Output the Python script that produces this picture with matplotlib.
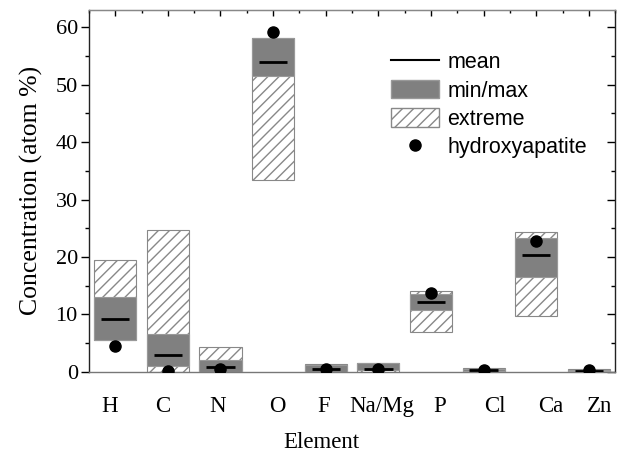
import numpy as np
import matplotlib
matplotlib.use('Agg')
import matplotlib.pyplot as plt
from matplotlib.patches import Patch
from matplotlib.lines import Line2D
from matplotlib.ticker import MultipleLocator

# data (atom %)
elements = ['H', 'C', 'N', 'O', 'F', 'Na/Mg', 'P', 'Cl', 'Ca', 'Zn']
ext_lo = [5.6, 0.0, 0.0, 33.4, 0.0, 0.0, 7.0, 0.0, 9.8, 0.0]
ext_hi = [19.5, 24.7, 4.4, 58.2, 1.3, 1.5, 14.0, 0.6, 24.3, 0.5]
mm_lo = [5.6, 1.0, 0.0, 51.5, 0.0, 0.3, 10.7, 0.1, 16.5, 0.1]
mm_hi = [13.0, 6.5, 2.0, 58.2, 1.2, 1.5, 13.6, 0.5, 23.3, 0.4]
mean = [9.2, 3.0, 0.8, 53.9, 0.5, 0.5, 12.1, 0.3, 20.3, 0.2]
hap = [4.5, 0.2, 0.5, 59.2, 0.5, 0.5, 13.75, 0.4, 22.8, 0.3]
# the element labels sit a little off the bar centres in the original
label_shift = [-0.1, -0.1, -0.06, 0.08, -0.04, 0.06, 0.17, 0.21, 0.27, 0.21]

x = np.arange(len(elements))
w = 0.8
serif = 'Liberation Serif'
sans = 'Liberation Sans'

fig = plt.figure(figsize=(6.22, 4.54), dpi=100)
ax = fig.add_axes([0.143, 0.181, 0.846, 0.797])

ext_h = np.array(ext_hi) - np.array(ext_lo)
mm_h = np.array(mm_hi) - np.array(mm_lo)
ax.bar(x, ext_h, bottom=ext_lo, width=w, color='white', edgecolor='#888888',
       hatch='///', linewidth=0.8, zorder=2)
ax.bar(x, mm_h, bottom=mm_lo, width=w, color='#808080', edgecolor='#999999',
       linewidth=0.8, zorder=3)
ax.hlines(mean, x - 0.27, x + 0.27, color='black', linewidth=2, zorder=4)
ax.plot(x, hap, 'o', color='black', markersize=8, zorder=5)

ax.set_xlim(-0.5, 9.5)
ax.set_ylim(0, 63)

ax.set_xticks(x + np.array(label_shift))
ax.set_xticklabels(elements, fontfamily=serif, fontsize=16.5)
ax.tick_params(axis='x', bottom=False, top=False, pad=14)

top = ax.secondary_xaxis('top')
top.set_xticks(x)
top.xaxis.set_minor_locator(MultipleLocator(0.5))
top.tick_params(which='both', direction='in', labeltop=False, length=4, width=1)
top.tick_params(which='minor', length=2.5)
top.spines['top'].set_color('#888888')

ax.yaxis.set_major_locator(MultipleLocator(10))
ax.yaxis.set_minor_locator(MultipleLocator(5))
ax.tick_params(axis='y', which='major', direction='out', length=6, width=1,
               right=True, pad=2)
ax.tick_params(axis='y', which='minor', direction='out', length=3, width=1,
               right=True)
for t in ax.get_yticklabels():
    t.set_fontfamily(serif)
    t.set_fontsize(16)
# inward ticks on the right side
for tk in ax.yaxis.get_major_ticks() + ax.yaxis.get_minor_ticks():
    tk.tick2line.set_marker(matplotlib.lines.TICKLEFT)

for s in ax.spines.values():
    s.set_linewidth(1)
    s.set_color('#222222')
ax.spines['bottom'].set_color('#777777')
ax.spines['top'].set_color('#888888')

ax.set_xlabel('Element', fontfamily=serif, fontsize=16.5)
ax.xaxis.set_label_coords(0.441, -0.165)
ax.set_ylabel('Concentration (atom %)', fontfamily=serif, fontsize=18.5,
              labelpad=9)

handles = [
    Line2D([], [], color='black', linewidth=1.5),
    Patch(facecolor='#808080', edgecolor='#999999'),
    Patch(facecolor='white', edgecolor='#888888', hatch='///'),
    Line2D([], [], marker='o', color='black', linestyle='none', markersize=8),
]
labels = ['mean', 'min/max', 'extreme', 'hydroxyapatite']
ax.legend(handles, labels, loc='upper left', bbox_to_anchor=(0.574, 0.885),
          frameon=False, borderpad=0, borderaxespad=0, handlelength=2.23,
          handleheight=0.93, handletextpad=0.4, labelspacing=0.32,
          prop={'family': sans, 'size': 15.5})

fig.savefig('out.png', dpi=100)
